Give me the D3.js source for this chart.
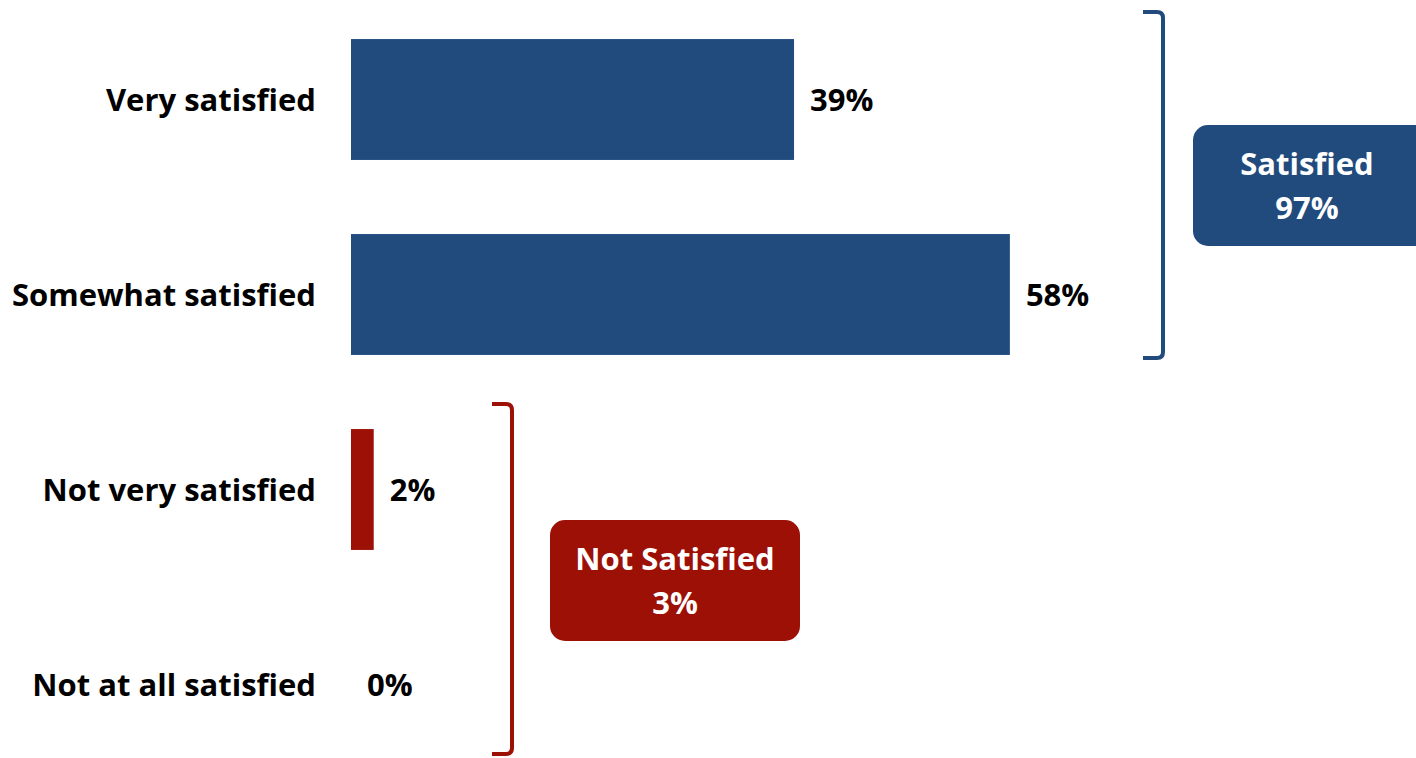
<!DOCTYPE html>
<html>
<head>
<meta charset="utf-8">
<script src="https://cdn.jsdelivr.net/npm/d3@7"></script>
<style>
html,body{margin:0;padding:0;background:#fff;}
svg{display:block;}
text{font-family:"Open Sans",sans-serif;font-weight:700;}
</style>
</head>
<body>
<svg id="chart" width="1416" height="758"></svg>
<script>
const categories = ["Very satisfied", "Somewhat satisfied", "Not very satisfied", "Not at all satisfied"];
const values = [39, 58, 2, 0];
const valueGroups = ["Satisfied", "Satisfied", "Not Satisfied", "Not Satisfied"];
const groupNames = ["Satisfied", "Not Satisfied"];
const groupTotals = [97, 3];
const groupColors = ["#224B7D", "#9C1006"];

const W = 1416, H = 758;
const svg = d3.select("#chart");
const fontSize = 31;

const x = d3.scaleLinear().domain([0, 100]).range([351, 351 + 1136]);
const y = d3.scaleBand().domain(categories).range([2, 782]).paddingInner(0.38).paddingOuter(0.19);
const color = d3.scaleOrdinal().domain(groupNames).range(groupColors);

const rows = categories.map((c, i) => ({cat: c, v: values[i], g: valueGroups[i]}));

// bars
svg.append("g").selectAll("rect").data(rows).join("rect")
  .attr("x", x(0))
  .attr("y", d => y(d.cat))
  .attr("width", d => x(d.v) - x(0))
  .attr("height", y.bandwidth())
  .attr("fill", d => color(d.g));

// category labels
svg.append("g").selectAll("text").data(rows).join("text")
  .attr("x", 316)
  .attr("y", d => y(d.cat) + y.bandwidth() / 2 + 11)
  .attr("text-anchor", "end")
  .attr("font-size", fontSize)
  .attr("fill", "#000")
  .text(d => d.cat);

// value labels
svg.append("g").selectAll("text").data(rows).join("text")
  .attr("x", d => x(d.v) + 16)
  .attr("y", d => y(d.cat) + y.bandwidth() / 2 + 11)
  .attr("text-anchor", "start")
  .attr("font-size", fontSize)
  .attr("fill", "#000")
  .text(d => d.v + "%");

// brackets and boxes
const groupsLayout = [
  {name: groupNames[0], total: groupTotals[0], bx: 1163, top: 12, bottom: 358, box: {x: 1193, y: 125, w: 240, h: 121}, cx: 1307},
  {name: groupNames[1], total: groupTotals[1], bx: 512, top: 404, bottom: 754, box: {x: 550, y: 520, w: 250, h: 121}, cx: 675}
];

groupsLayout.forEach(g => {
  const c = color(g.name);
  const r = 6;
  const p = d3.path();
  p.moveTo(g.bx - 20, g.top);
  p.lineTo(g.bx - r, g.top);
  p.quadraticCurveTo(g.bx, g.top, g.bx, g.top + r);
  p.lineTo(g.bx, g.bottom - r);
  p.quadraticCurveTo(g.bx, g.bottom, g.bx - r, g.bottom);
  p.lineTo(g.bx - 20, g.bottom);
  svg.append("path").attr("d", p.toString())
    .attr("fill", "none").attr("stroke", c).attr("stroke-width", 4);

  svg.append("rect")
    .attr("x", g.box.x).attr("y", g.box.y)
    .attr("width", g.box.w).attr("height", g.box.h)
    .attr("rx", 15).attr("ry", 15)
    .attr("fill", c);
  const cy = g.box.y + g.box.h / 2;
  svg.append("text").attr("x", g.cx).attr("y", cy - 11)
    .attr("text-anchor", "middle").attr("font-size", fontSize).attr("fill", "#fff")
    .text(g.name);
  svg.append("text").attr("x", g.cx).attr("y", cy + 33)
    .attr("text-anchor", "middle").attr("font-size", fontSize).attr("fill", "#fff")
    .text(g.total + "%");
});
</script>
</body>
</html>
